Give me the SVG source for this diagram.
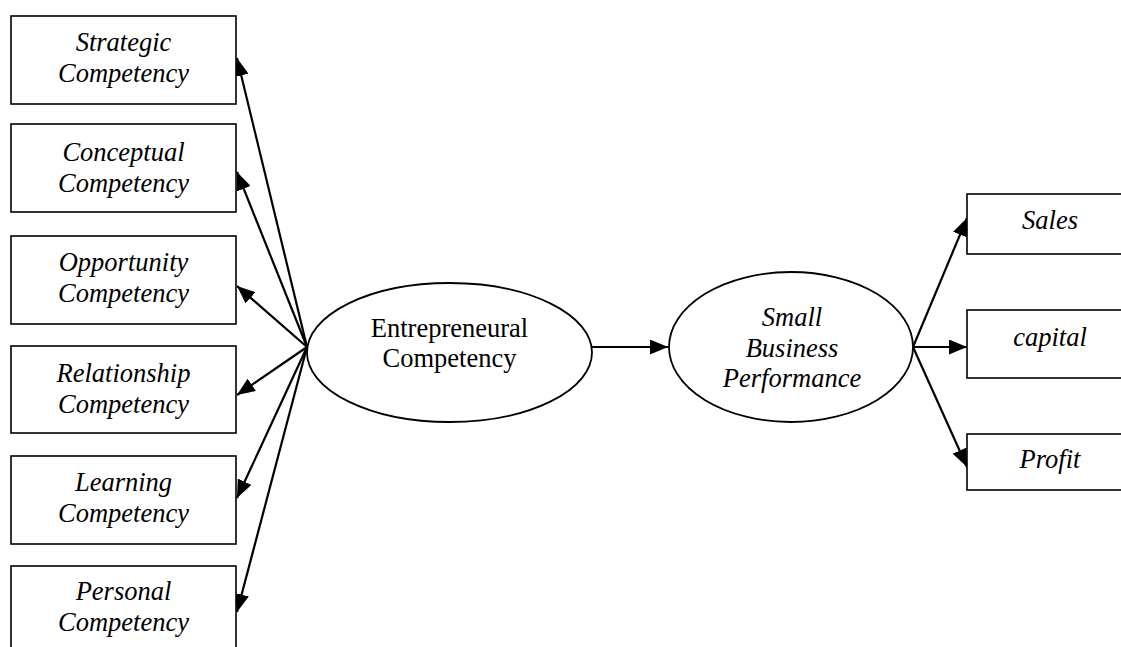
<svg xmlns="http://www.w3.org/2000/svg" width="1121" height="647" viewBox="0 0 1121 647">
<style>
.box{fill:#fff;stroke:#000;stroke-width:1.6}
.ell{fill:#fff;stroke:#000;stroke-width:1.8}
.t{font-family:"Liberation Serif","Times New Roman",serif;font-size:26.5px;text-anchor:middle;fill:#000}
.i{font-style:italic}
.c{stroke:#000;stroke-width:2.2;fill:none;marker-end:url(#ah)}
</style>
<defs>
<marker id="ah" markerUnits="userSpaceOnUse" markerWidth="19" markerHeight="15" refX="18" refY="7.5" orient="auto">
<path d="M0,0 L18,7.5 L0,15 z" fill="#000"/>
</marker>
</defs>
<rect width="1121" height="647" fill="#fff"/>
<g id="connectors">
<line class="c" x1="307" y1="347" x2="237" y2="58"/>
<line class="c" x1="307" y1="347" x2="237" y2="172"/>
<line class="c" x1="307" y1="347" x2="237" y2="286"/>
<line class="c" x1="307" y1="347" x2="237" y2="395"/>
<line class="c" x1="307" y1="347" x2="237" y2="498"/>
<line class="c" x1="307" y1="347" x2="237" y2="612"/>
<line class="c" x1="592" y1="347" x2="668" y2="347"/>
<line class="c" x1="913" y1="347" x2="967" y2="218"/>
<line class="c" x1="913" y1="347" x2="967" y2="347"/>
<line class="c" x1="913" y1="347" x2="967" y2="467"/>
</g>
<g id="strategic">
<rect class="box" x="11" y="16" width="225" height="88"/>
<text class="t i" x="123.5" y="51">Strategic</text>
<text class="t i" x="123.5" y="82">Competency</text>
</g>
<g id="conceptual">
<rect class="box" x="11" y="124" width="225" height="88"/>
<text class="t i" x="123.5" y="161">Conceptual</text>
<text class="t i" x="123.5" y="192">Competency</text>
</g>
<g id="opportunity">
<rect class="box" x="11" y="236" width="225" height="88"/>
<text class="t i" x="123.5" y="271">Opportunity</text>
<text class="t i" x="123.5" y="302">Competency</text>
</g>
<g id="relationship">
<rect class="box" x="11" y="346" width="225" height="87"/>
<text class="t i" x="123.5" y="382">Relationship</text>
<text class="t i" x="123.5" y="413">Competency</text>
</g>
<g id="learning">
<rect class="box" x="11" y="456" width="225" height="88"/>
<text class="t i" x="123.5" y="491">Learning</text>
<text class="t i" x="123.5" y="522">Competency</text>
</g>
<g id="personal">
<rect class="box" x="11" y="566" width="225" height="88"/>
<text class="t i" x="123.5" y="600">Personal</text>
<text class="t i" x="123.5" y="631">Competency</text>
</g>
<g id="entrepreneural">
<ellipse class="ell" cx="449.5" cy="352.5" rx="142.5" ry="69.5"/>
<text class="t" x="449.5" y="337">Entrepreneural</text>
<text class="t" x="449.5" y="367">Competency</text>
</g>
<g id="sbp">
<ellipse class="ell" cx="791" cy="347" rx="122" ry="75"/>
<text class="t i" x="792" y="326">Small</text>
<text class="t i" x="792" y="357">Business</text>
<text class="t i" x="792" y="387">Performance</text>
</g>
<g id="sales">
<rect class="box" x="967" y="194" width="166" height="60"/>
<text class="t i" x="1050" y="229">Sales</text>
</g>
<g id="capital">
<rect class="box" x="967" y="310" width="166" height="68"/>
<text class="t i" x="1050" y="346">capital</text>
</g>
<g id="profit">
<rect class="box" x="967" y="434" width="166" height="56"/>
<text class="t i" x="1050" y="468">Profit</text>
</g>
</svg>
